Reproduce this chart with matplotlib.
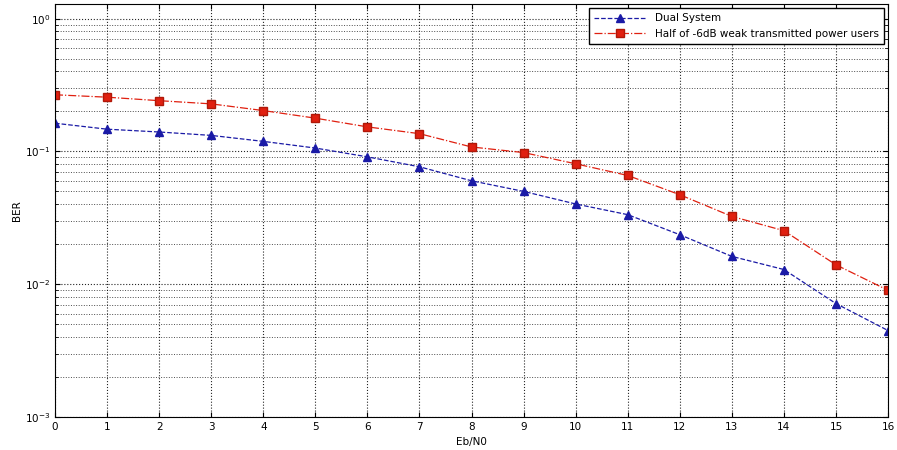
import matplotlib
matplotlib.use("Agg")
import matplotlib.pyplot as plt
from matplotlib.ticker import LogLocator, FixedLocator

ebn0 = list(range(0, 17))
ber_dual = [0.163, 0.147, 0.140, 0.132, 0.119, 0.106, 0.091, 0.0766, 0.0601,
            0.050, 0.0402, 0.0334, 0.0236, 0.0162, 0.0129, 0.00715, 0.00448]
ber_half = [0.267, 0.256, 0.241, 0.228, 0.203, 0.178, 0.153, 0.136, 0.108,
            0.098, 0.0807, 0.0659, 0.0472, 0.0324, 0.0253, 0.0140, 0.0090]
labels = ["Dual System", "Half of -6dB weak transmitted power users"]

fig = plt.figure(figsize=(8.97, 4.5), dpi=100)
ax = fig.add_axes([55 / 897, 33 / 450, 833 / 897, 413 / 450])

ax.semilogy(ebn0, ber_dual, "--", color="#1a1aa6", lw=0.9, marker="^",
            ms=6, mfc="#1a1aa6", mec="#1a1aa6", label=labels[0])
ax.semilogy(ebn0, ber_half, "-.", color="#e02010", lw=0.9, marker="s",
            ms=6, mfc="#e02010", mec="#b01808", label=labels[1])

ax.set_xlim(0, 16)
ax.set_ylim(1e-3, 10 ** 0.11)
ax.xaxis.set_major_locator(FixedLocator(ebn0))
ax.yaxis.set_major_locator(FixedLocator([1e-3, 1e-2, 1e-1, 1e0]))
ax.yaxis.set_minor_locator(LogLocator(base=10, subs=range(2, 10)))

# matlab-style dotted grid
ax.grid(True, which="major", ls=":", color="black", lw=0.8, alpha=0.85)
ax.grid(True, which="minor", axis="y", ls=":", color="black", lw=0.7, alpha=0.7)
ax.tick_params(which="both", direction="in", top=True, right=True, labelsize=7.5)
ax.tick_params(which="minor", length=2)

ax.set_xlabel("Eb/N0", fontsize=7.5, labelpad=4)
ax.set_ylabel("BER", fontsize=7.5)
ax.yaxis.set_label_coords(-0.04, 0.5)

ax.legend(loc="upper right", fontsize=7.5, frameon=True, fancybox=False,
          edgecolor="black", framealpha=1, borderaxespad=0.4, handlelength=5,
          labelspacing=0.5, borderpad=0.5)

fig.savefig("out.png", dpi=100)
